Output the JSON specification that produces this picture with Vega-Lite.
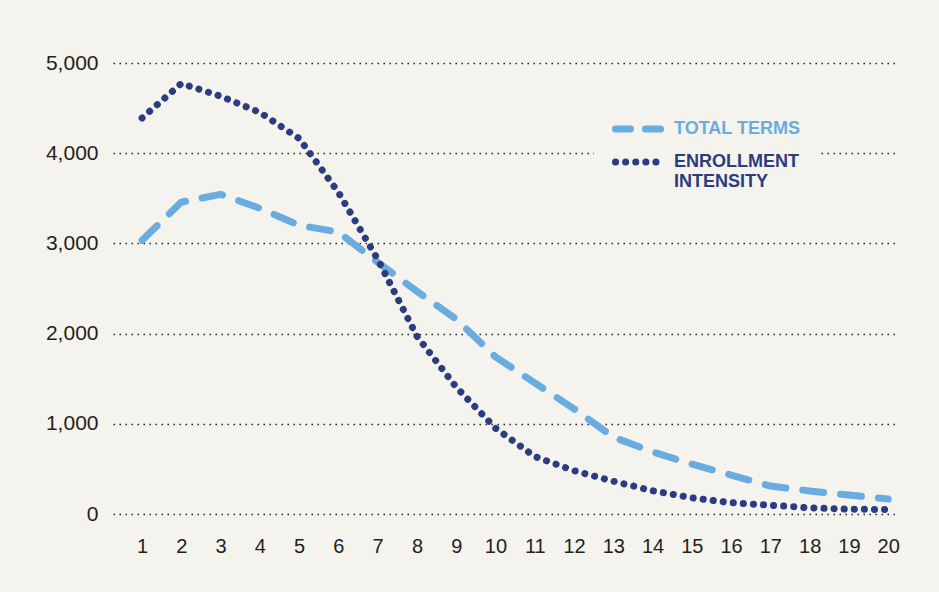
{
  "$schema": "https://vega.github.io/schema/vega-lite/v6.json",
  "autosize": "none",
  "width": 785,
  "height": 451,
  "padding": {"left": 113, "top": 63, "right": 41, "bottom": 78},
  "background": "#f4f3ed",
  "config": {"view": {"stroke": null}, "font": "Liberation Sans"},
  "data": {"values": [
    {"period": 1, "series": "TOTAL TERMS", "value": 3034},
    {"period": 2, "series": "TOTAL TERMS", "value": 3458},
    {"period": 3, "series": "TOTAL TERMS", "value": 3544},
    {"period": 4, "series": "TOTAL TERMS", "value": 3390},
    {"period": 5, "series": "TOTAL TERMS", "value": 3200},
    {"period": 6, "series": "TOTAL TERMS", "value": 3126},
    {"period": 7, "series": "TOTAL TERMS", "value": 2790},
    {"period": 8, "series": "TOTAL TERMS", "value": 2468},
    {"period": 9, "series": "TOTAL TERMS", "value": 2160},
    {"period": 10, "series": "TOTAL TERMS", "value": 1742},
    {"period": 11, "series": "TOTAL TERMS", "value": 1453},
    {"period": 12, "series": "TOTAL TERMS", "value": 1166},
    {"period": 13, "series": "TOTAL TERMS", "value": 853},
    {"period": 14, "series": "TOTAL TERMS", "value": 689},
    {"period": 15, "series": "TOTAL TERMS", "value": 554},
    {"period": 16, "series": "TOTAL TERMS", "value": 432},
    {"period": 17, "series": "TOTAL TERMS", "value": 310},
    {"period": 18, "series": "TOTAL TERMS", "value": 255},
    {"period": 19, "series": "TOTAL TERMS", "value": 210},
    {"period": 20, "series": "TOTAL TERMS", "value": 166},
    {"period": 1, "series": "ENROLLMENT INTENSITY", "value": 4390},
    {"period": 2, "series": "ENROLLMENT INTENSITY", "value": 4773},
    {"period": 3, "series": "ENROLLMENT INTENSITY", "value": 4632},
    {"period": 4, "series": "ENROLLMENT INTENSITY", "value": 4452},
    {"period": 5, "series": "ENROLLMENT INTENSITY", "value": 4164},
    {"period": 6, "series": "ENROLLMENT INTENSITY", "value": 3566},
    {"period": 7, "series": "ENROLLMENT INTENSITY", "value": 2824},
    {"period": 8, "series": "ENROLLMENT INTENSITY", "value": 1971},
    {"period": 9, "series": "ENROLLMENT INTENSITY", "value": 1406},
    {"period": 10, "series": "ENROLLMENT INTENSITY", "value": 952},
    {"period": 11, "series": "ENROLLMENT INTENSITY", "value": 637},
    {"period": 12, "series": "ENROLLMENT INTENSITY", "value": 480},
    {"period": 13, "series": "ENROLLMENT INTENSITY", "value": 363},
    {"period": 14, "series": "ENROLLMENT INTENSITY", "value": 258},
    {"period": 15, "series": "ENROLLMENT INTENSITY", "value": 180},
    {"period": 16, "series": "ENROLLMENT INTENSITY", "value": 125},
    {"period": 17, "series": "ENROLLMENT INTENSITY", "value": 97},
    {"period": 18, "series": "ENROLLMENT INTENSITY", "value": 69},
    {"period": 19, "series": "ENROLLMENT INTENSITY", "value": 53},
    {"period": 20, "series": "ENROLLMENT INTENSITY", "value": 50}
  ]},
  "encoding": {
    "x": {
      "field": "period", "type": "quantitative",
      "scale": {"domain": [0.26, 20.25], "nice": false, "zero": false},
      "axis": {
        "values": [1,2,3,4,5,6,7,8,9,10,11,12,13,14,15,16,17,18,19,20],
        "title": null, "domain": false, "ticks": false, "grid": false,
        "labelFontSize": 20, "labelColor": "#231f20", "labelPadding": 22,
        "labelFlush": false,
        "encode": {"labels": {"update": {"dx": {"value": 4}}}}
      }
    },
    "y": {
      "field": "value", "type": "quantitative",
      "scale": {"domain": [0, 5000], "nice": false},
      "axis": {
        "values": [0, 1000, 2000, 3000, 4000, 5000],
        "format": ",d", "title": null, "domain": false, "ticks": false,
        "grid": true, "gridDash": [1.5, 4.5], "gridColor": "#222222", "gridWidth": 1.5,
        "labelFontSize": 21, "labelColor": "#231f20", "labelPadding": 15
      }
    },
    "color": {
      "field": "series", "type": "nominal",
      "scale": {"domain": ["TOTAL TERMS", "ENROLLMENT INTENSITY"], "range": ["#6aacdf", "#2b3c80"]},
      "legend": {
        "title": null,
        "values": ["TOTAL TERMS"],
        "orient": "none",
        "legendX": 481,
        "legendY": 22,
        "fillColor": "#f4f3ed",
        "padding": 18,
        "symbolType": "stroke",
        "symbolSize": 2025,
        "symbolStrokeWidth": 7,
        "labelFont": "Liberation Sans",
        "labelFontWeight": "bold",
        "labelFontSize": 18,
        "labelOffset": 10,
        "labelColor": "#6aacdf",
        "labelLimit": 300,
        "encode": {
          "symbols": {"update": {
            "stroke": {"value": "#6aacdf"},
            "strokeCap": {"value": "round"},
            "strokeDash": {"value": [15, 15]}
          }}
        }
      }
    },
    "strokeDash": {
      "field": "series", "type": "nominal",
      "scale": {"domain": ["ENROLLMENT INTENSITY", "TOTAL TERMS"], "range": [[0.1, 10], [21, 17]]},
      "legend": {
        "title": null,
        "values": ["ENROLLMENT INTENSITY"],
        "orient": "none",
        "legendX": 481,
        "legendY": 55,
        "padding": 18,
        "symbolType": "stroke",
        "symbolSize": 2025,
        "symbolStrokeWidth": 7,
        "symbolStrokeColor": "#2b3c80",
        "labelFont": "Liberation Sans",
        "labelFontWeight": "bold",
        "labelFontSize": 18,
        "labelOffset": 10,
        "labelColor": "#2b3c80",
        "labelBaseline": "top",
        "labelLimit": 300,
        "labelExpr": "['ENROLLMENT', 'INTENSITY']",
        "encode": {
          "labels": {"update": {
            "dy": {"value": -9},
            "lineHeight": {"value": 20}
          }},
          "symbols": {"update": {
            "stroke": {"value": "#2b3c80"},
            "strokeCap": {"value": "round"},
            "strokeDash": {"value": [0.1, 15]}
          }}
        }
      }
    }
  },
  "layer": [
    {
      "transform": [{"filter": "datum.series === 'TOTAL TERMS'"}],
      "mark": {"type": "line", "strokeWidth": 7, "strokeCap": "round", "strokeJoin": "round"}
    },
    {
      "transform": [{"filter": "datum.series === 'ENROLLMENT INTENSITY'"}],
      "mark": {"type": "line", "strokeWidth": 7, "strokeCap": "round", "strokeJoin": "round"}
    }
  ]
}
